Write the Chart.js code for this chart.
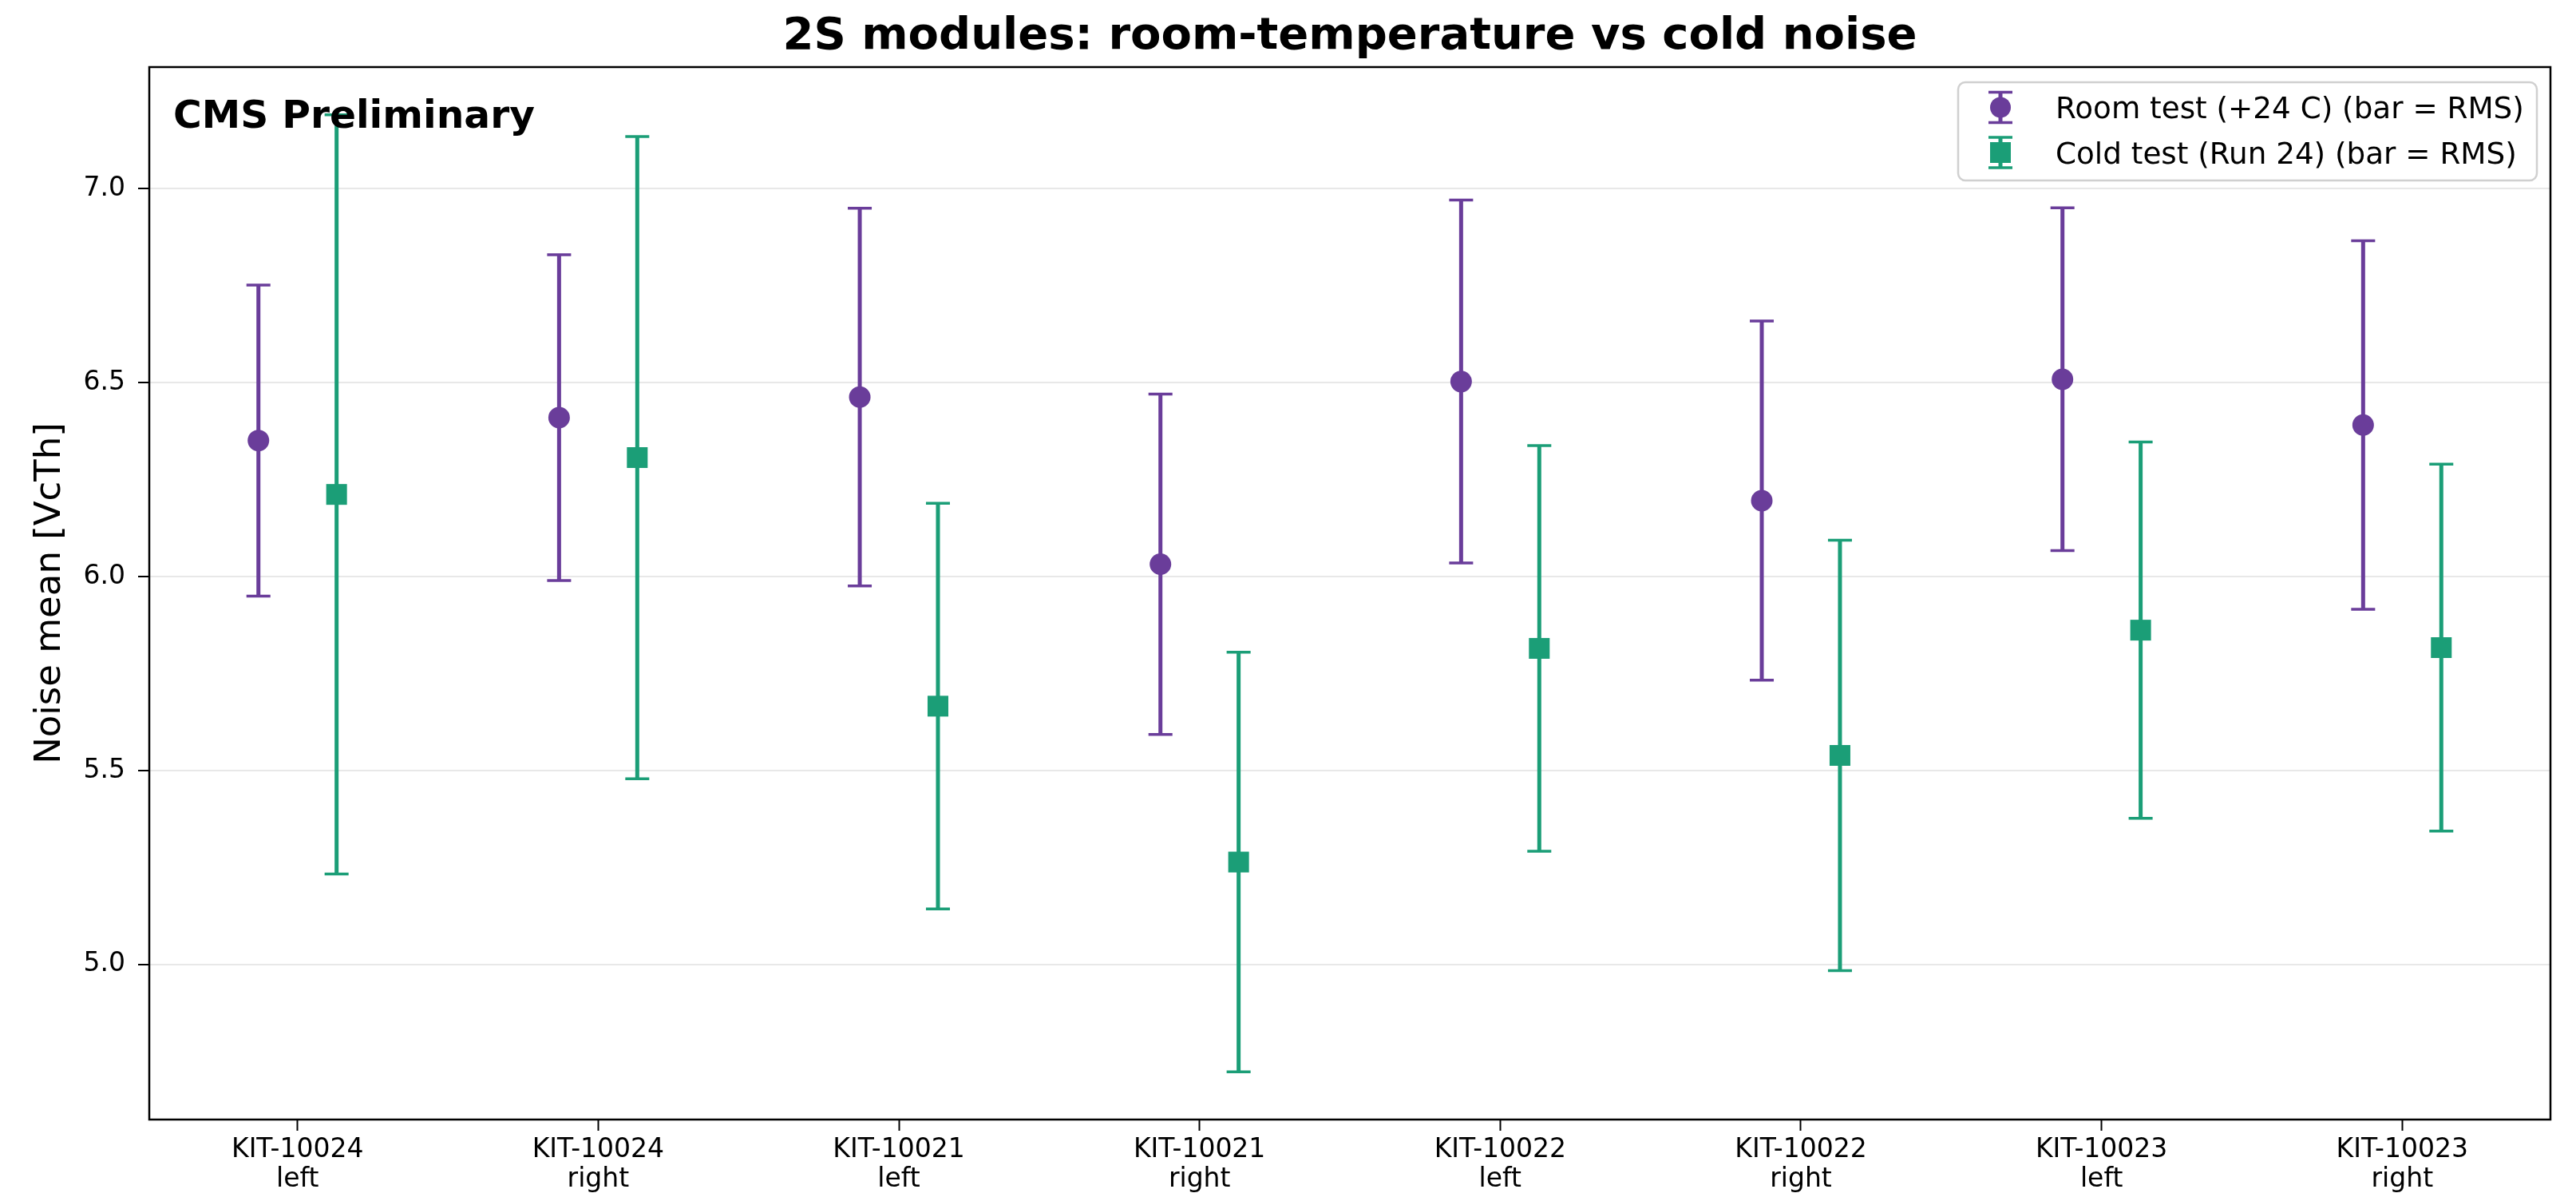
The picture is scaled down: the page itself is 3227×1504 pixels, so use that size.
<!DOCTYPE html>
<html>
<head>
<meta charset="utf-8">
<script src="https://cdn.jsdelivr.net/npm/chart.js@4.4.1/dist/chart.umd.min.js"></script>
<style>
html,body{margin:0;padding:0;background:#ffffff;overflow:hidden;}
#wrap{width:3227px;height:1504px;}
canvas{display:block;}
</style>
</head>
<body>
<div id="wrap"><canvas id="c" width="3227" height="1504"></canvas></div>
<script>
// ---- data ----
const categories = [
  ["KIT-10024", "left"], ["KIT-10024", "right"],
  ["KIT-10021", "left"], ["KIT-10021", "right"],
  ["KIT-10022", "left"], ["KIT-10022", "right"],
  ["KIT-10023", "left"], ["KIT-10023", "right"]
];
const roomMean = [6.351, 6.410, 6.463, 6.032, 6.503, 6.196, 6.509, 6.391];
const roomRms  = [0.401, 0.420, 0.487, 0.439, 0.468, 0.463, 0.442, 0.475];
const coldMean = [6.212, 6.307, 5.666, 5.264, 5.815, 5.539, 5.862, 5.817];
const coldRms  = [0.979, 0.828, 0.523, 0.541, 0.523, 0.555, 0.485, 0.473];
const yTicks = [5.0, 5.5, 6.0, 6.5, 7.0];
const seriesLabels = ["Room test (+24 C) (bar = RMS)", "Cold test (Run 24) (bar = RMS)"];
const chartTitle = "2S modules: room-temperature vs cold noise";
const yTitle = "Noise mean [VcTh]";
const cornerText = "CMS Preliminary";

// ---- styling ----
const PURPLE = "#6a3d9a";
const GREEN = "#1b9e77";
const FONT = "'DejaVu Sans', 'Liberation Sans', sans-serif";
const OFFSET = 0.13;

const roomPts = roomMean.map((m, i) => ({x: i - OFFSET, y: m}));
const coldPts = coldMean.map((m, i) => ({x: i + OFFSET, y: m}));
const rmsLists = [roomRms, coldRms];

const errorBars = {
  id: 'errorBars',
  beforeDatasetsDraw(chart) {
    const ctx = chart.ctx;
    const ys = chart.scales.y;
    chart.data.datasets.forEach((ds, di) => {
      const meta = chart.getDatasetMeta(di);
      const rms = rmsLists[di];
      ctx.save();
      ctx.strokeStyle = ds.borderColor;
      meta.data.forEach((el, j) => {
        const v = ds.data[j].y;
        const yt = ys.getPixelForValue(v + rms[j]);
        const yb = ys.getPixelForValue(v - rms[j]);
        const x = el.x;
        ctx.lineWidth = 5;
        ctx.beginPath();
        ctx.moveTo(x, yt); ctx.lineTo(x, yb);
        ctx.stroke();
        ctx.lineWidth = 3.5;
        ctx.beginPath();
        ctx.moveTo(x - 15, yt); ctx.lineTo(x + 15, yt);
        ctx.moveTo(x - 15, yb); ctx.lineTo(x + 15, yb);
        ctx.stroke();
      });
      ctx.restore();
    });
  }
};

function roundRect(ctx, x, y, w, h, r) {
  ctx.beginPath();
  ctx.moveTo(x + r, y);
  ctx.lineTo(x + w - r, y);
  ctx.arcTo(x + w, y, x + w, y + r, r);
  ctx.lineTo(x + w, y + h - r);
  ctx.arcTo(x + w, y + h, x + w - r, y + h, r);
  ctx.lineTo(x + r, y + h);
  ctx.arcTo(x, y + h, x, y + h - r, r);
  ctx.lineTo(x, y + r);
  ctx.arcTo(x, y, x + r, y, r);
  ctx.closePath();
}

const decorations = {
  id: 'decorations',
  afterDraw(chart) {
    const ctx = chart.ctx;
    const a = chart.chartArea;
    ctx.save();
    // frame
    ctx.strokeStyle = '#000';
    ctx.lineWidth = 2.5;
    ctx.strokeRect(a.left, a.top, a.right - a.left, a.bottom - a.top);
    // title
    ctx.fillStyle = '#000';
    ctx.font = "bold 56px " + FONT;
    ctx.textAlign = 'center';
    ctx.textBaseline = 'alphabetic';
    ctx.fillText(chartTitle, (a.left + a.right) / 2, 61);
    // corner text
    ctx.font = "bold 48.7px " + FONT;
    ctx.textAlign = 'left';
    ctx.fillText(cornerText, a.left + 30, a.top + 76);
    // legend
    const bw = 725, bh = 123;
    const bx = a.right - 17 - bw, by = a.top + 19;
    roundRect(ctx, bx, by, bw, bh, 9);
    ctx.fillStyle = 'rgba(255,255,255,0.8)';
    ctx.fill();
    ctx.strokeStyle = '#d0d0d0';
    ctx.lineWidth = 2.5;
    ctx.stroke();
    const rowY = [by + 31.5, by + 88];
    const colors = [PURPLE, GREEN];
    const ix = bx + 53;
    for (let k = 0; k < 2; k++) {
      const cy = rowY[k];
      ctx.strokeStyle = colors[k];
      ctx.fillStyle = colors[k];
      ctx.lineWidth = 5;
      ctx.beginPath(); ctx.moveTo(ix, cy - 19); ctx.lineTo(ix, cy + 19); ctx.stroke();
      ctx.lineWidth = 3.5;
      ctx.beginPath();
      ctx.moveTo(ix - 15, cy - 19); ctx.lineTo(ix + 15, cy - 19);
      ctx.moveTo(ix - 15, cy + 19); ctx.lineTo(ix + 15, cy + 19);
      ctx.stroke();
      if (k === 0) {
        ctx.beginPath(); ctx.arc(ix, cy, 13, 0, Math.PI * 2); ctx.fill();
      } else {
        ctx.fillRect(ix - 13, cy - 13, 26, 26);
      }
      ctx.fillStyle = '#000';
      ctx.font = "37.3px " + FONT;
      ctx.textAlign = 'left';
      ctx.textBaseline = 'alphabetic';
      ctx.fillText(seriesLabels[k], bx + 122, cy + 13.5);
    }
    ctx.restore();
  }
};

new Chart(document.getElementById('c'), {
  type: 'scatter',
  data: {
    datasets: [
      {label: seriesLabels[0], data: roomPts, backgroundColor: PURPLE, borderColor: PURPLE,
       pointStyle: 'circle', pointRadius: 13.5, pointBorderWidth: 0, pointHoverRadius: 13.5},
      {label: seriesLabels[1], data: coldPts, backgroundColor: GREEN, borderColor: GREEN,
       pointStyle: 'rect', pointRadius: 18.4, pointBorderWidth: 0, pointHoverRadius: 18.4}
    ]
  },
  options: {
    responsive: false,
    animation: false,
    devicePixelRatio: 1,
    events: [],
    layout: {padding: {top: 84, right: 32, left: 0, bottom: 0}},
    plugins: {legend: {display: false}, tooltip: {enabled: false}, title: {display: false}},
    scales: {
      x: {
        type: 'linear', min: -0.493, max: 7.493,
        afterBuildTicks: s => { s.ticks = categories.map((c, i) => ({value: i})); },
        afterFit: s => { s.height = 102; },
        grid: {drawOnChartArea: false, drawTicks: true, tickLength: 14, tickColor: '#000', tickWidth: 2},
        border: {display: false},
        ticks: {
          callback: v => categories[v],
          font: {family: FONT, size: 33, lineHeight: 1.12},
          color: '#000', padding: 6, maxRotation: 0, minRotation: 0, autoSkip: false
        }
      },
      y: {
        type: 'linear', min: 4.60, max: 7.314,
        afterBuildTicks: s => { s.ticks = yTicks.map(v => ({value: v})); },
        afterFit: s => { s.width = 187; },
        grid: {color: '#e8e8e8', lineWidth: 2, drawTicks: true, tickLength: 14, tickColor: '#000', tickWidth: 2},
        border: {display: false},
        ticks: {
          callback: v => Number(v).toFixed(1),
          font: {family: FONT, size: 33},
          color: '#000', padding: 16
        },
        title: {display: true, text: yTitle, font: {family: FONT, size: 45}, color: '#000', padding: {top: 36, bottom: 0}}
      }
    }
  },
  plugins: [errorBars, decorations]
});
</script>
</body>
</html>
